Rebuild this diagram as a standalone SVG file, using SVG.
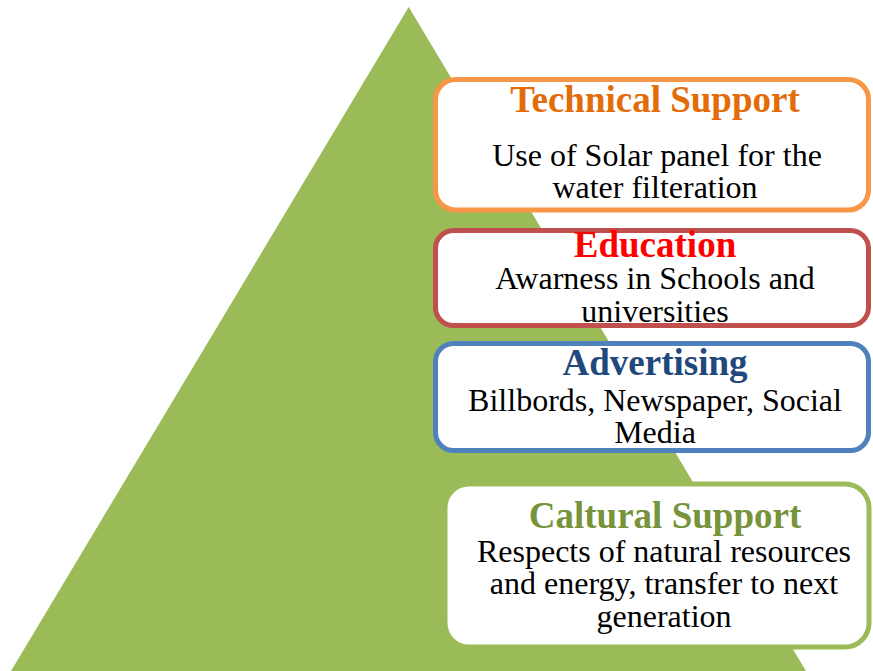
<svg xmlns="http://www.w3.org/2000/svg" width="873" height="671" viewBox="0 0 873 671">
<style>
.box{fill:#FFFFFF;stroke-width:5}
.title{font-family:"Liberation Serif","Times New Roman",serif;font-weight:bold;font-size:37px;text-anchor:middle}
.body{font-family:"Liberation Serif","Times New Roman",serif;font-size:32px;fill:#000000;text-anchor:middle}
</style>
<rect x="0" y="0" width="873" height="671" fill="#FFFFFF"/>
<g id="pyramid">
<polygon points="408.7,7 11,671 806,671" fill="#9BBB59"/>
</g>
<g id="connectors"></g>
<g id="technical-support">
<rect class="box" x="435.5" y="79.5" width="433" height="130.5" rx="20" stroke="#F79646"/>
<text class="title" x="655" y="112" fill="#E36C09">Technical Support</text>
<text class="body" x="657" y="166">Use of Solar panel for the</text>
<text class="body" x="655" y="198">water filteration</text>
</g>
<g id="education">
<rect class="box" x="435.5" y="230.5" width="433" height="95" rx="18" stroke="#C0504D"/>
<text class="title" x="655" y="257" fill="#FF0000">Education</text>
<text class="body" x="655" y="289">Awarness in Schools and</text>
<text class="body" x="655" y="322">universities</text>
</g>
<g id="advertising">
<rect class="box" x="435.5" y="343.5" width="433" height="107" rx="18" stroke="#4F81BD"/>
<text class="title" x="655" y="375" fill="#1F497D">Advertising</text>
<text class="body" x="655" y="411">Billbords, Newspaper, Social</text>
<text class="body" x="655" y="443">Media</text>
</g>
<g id="caltural-support">
<rect class="box" x="445" y="484" width="424" height="163" rx="24" stroke="#9BBB59" stroke-width="6"/>
<text class="title" x="665" y="528" fill="#77933C">Caltural Support</text>
<text class="body" x="664" y="562">Respects of natural resources</text>
<text class="body" x="664" y="594">and energy, transfer to next</text>
<text class="body" x="664" y="627">generation</text>
</g>
</svg>
